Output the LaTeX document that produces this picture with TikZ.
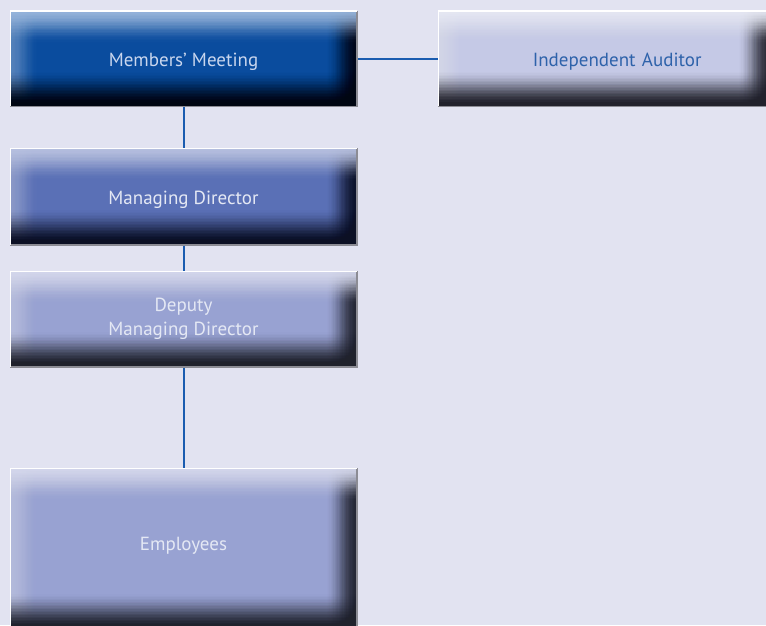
\documentclass[tikz,border=0pt]{standalone}
\usepackage{fontspec}
\setmainfont{PT Sans}
\definecolor{bg}{HTML}{E2E3F1}
\definecolor{conn}{HTML}{1A5CB0}
\definecolor{mmC}{HTML}{0A4C9E}\definecolor{mmL}{HTML}{9CBAE0}\definecolor{mmD}{HTML}{000612}
\definecolor{iaC}{HTML}{C5C9E6}\definecolor{iaL}{HTML}{E9EBF6}\definecolor{iaD}{HTML}{22222C}
\definecolor{mdC}{HTML}{5A70B6}\definecolor{mdL}{HTML}{BCC5E4}\definecolor{mdD}{HTML}{0C1024}
\definecolor{dpC}{HTML}{98A2D2}\definecolor{dpL}{HTML}{D8DBEF}\definecolor{dpD}{HTML}{20222C}
\definecolor{txtM}{HTML}{C9D6EE}
\definecolor{txtW}{HTML}{E4E8F4}
\definecolor{txtB}{HTML}{2E62AA}
\definecolor{frameR}{HTML}{8C8C94}
\pgfdeclarelayer{bgl}\pgfdeclarelayer{boxes}
\pgfsetlayers{bgl,boxes,main}
\tikzset{
  orgbox/.style n args={2}{rectangle, draw=none, minimum width=#1, minimum height=#2,
    inner sep=0pt, align=center, font=\fontsize{19}{24}\selectfont},
  oneline/.style={text height=15pt, text depth=0pt},
  edgeshadow/.style={draw=frameR, line width=1.6pt},
  whiteframe/.style={draw=white, line width=1.6pt},
  connector/.style={draw=conn, line width=2pt}
}
% smooth-profile alpha for nested strip #2 of 24 with peak #1
\newcommand{\calcalpha}[2]{%
  \pgfmathsetmacro{\pa}{#1*(1-(3*((#2-0.5)/24)^2-2*((#2-0.5)/24)^3))}%
  \pgfmathsetmacro{\pb}{#2<24 ? #1*(1-(3*((#2+0.5)/24)^2-2*((#2+0.5)/24)^3)) : 0}%
  \pgfmathsetmacro{\al}{max(0,min(1,1-(1-\pa)/(1-\pb)))}%
}
\newcommand{\bevelbox}[4]{% node, C, L, D
  \fill[#2] (#1.south west) rectangle (#1.north east);
  \foreach \i in {1,...,24}{
    \calcalpha{0.55}{\i}
    \fill[#3, opacity=\al] (#1.south west) rectangle ([xshift=\i*1.2pt]#1.north west);
  }
  \foreach \i in {1,...,24}{
    \calcalpha{0.9}{\i}
    \fill[#4, opacity=\al] (#1.south east) rectangle ([xshift=-\i*1.3pt]#1.north east);
  }
  \foreach \i in {1,...,24}{
    \calcalpha{0.97}{\i}
    \fill[#3, opacity=\al] (#1.north west) rectangle ([yshift=-\i*1.4pt]#1.north east);
  }
  \foreach \i in {1,...,24}{
    \calcalpha{0.985}{\i}
    \fill[#4, opacity=\al] (#1.south west) rectangle ([yshift=\i*1.5pt]#1.south east);
  }
  \draw[edgeshadow] ([yshift=-0.2pt]#1.south west) -- ([xshift=0.2pt,yshift=-0.2pt]#1.south east) -- ([xshift=0.2pt]#1.north east);
  \draw[whiteframe] ([yshift=-0.2pt]#1.south west) -- (#1.north west) -- ([xshift=0.2pt]#1.north east);
}
\begin{document}
\begin{tikzpicture}[x=1pt,y=-1pt]
\useasboundingbox (0,0) rectangle (766,625);
\clip (0,0) rectangle (766,625);
\begin{pgfonlayer}{bgl}
\fill[bg] (0,0) rectangle (766,625);
\end{pgfonlayer}
% boxes
\node[orgbox={346pt}{95pt}, oneline, text=txtM] (mm) at (183.5,58.5) {Members’ Meeting};
\node[orgbox={330pt}{95pt}, text height=16pt, text depth=0pt, text=txtB, text width=300pt, align=right] (ia) at (603.5,58.5) {Independent Auditor\hspace*{52pt}};
\node[orgbox={346pt}{96pt}, oneline, text=txtW] (md) at (183.5,196.5) {Managing Director};
\node[orgbox={346pt}{95pt}, text=txtW] (dp) at (183.5,319) {Deputy\\Managing Director};
\node[orgbox={346pt}{160pt}, text height=13.4pt, text depth=9pt, text=txtW] (em) at (183.5,548.5) {Employees};
\begin{pgfonlayer}{boxes}
\bevelbox{mm}{mmC}{mmL}{mmD}
\bevelbox{ia}{iaC}{iaL}{iaD}
\bevelbox{md}{mdC}{mdL}{mdD}
\bevelbox{dp}{dpC}{dpL}{dpD}
\bevelbox{em}{dpC}{dpL}{dpD}
\end{pgfonlayer}
% connectors
\draw[connector] ([yshift=-0.8pt]mm.south) -- ([yshift=0.8pt]md.north);
\draw[connector] ([yshift=-0.8pt]md.south) -- ([yshift=0.8pt]dp.north);
\draw[connector] ([yshift=-0.8pt]dp.south) -- ([yshift=0.8pt]em.north);
\draw[connector] ([xshift=1pt]mm.east) -- ([xshift=-0.8pt]ia.west);
\end{tikzpicture}
\end{document}
